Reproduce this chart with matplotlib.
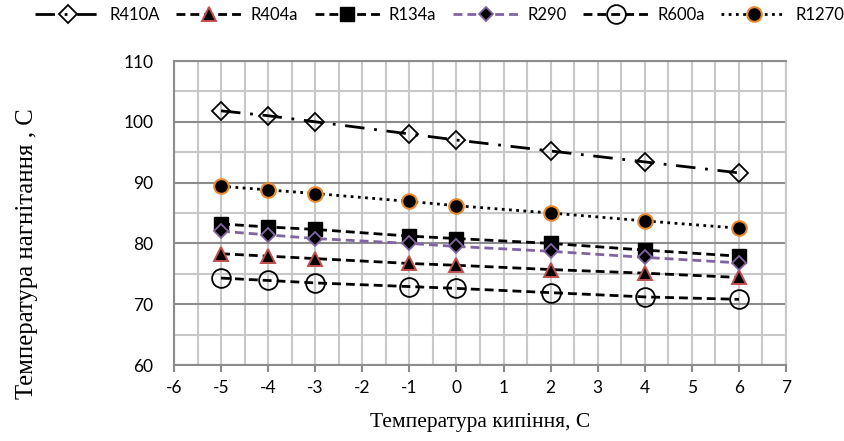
import matplotlib
matplotlib.use("Agg")
import matplotlib.pyplot as plt
from matplotlib.ticker import MultipleLocator

x = [-5, -4, -3, -1, 0, 2, 4, 6]
series_names = ["R410A", "R404a", "R134a", "R290", "R600a", "R1270"]
r410a = [101.8, 101.0, 100.0, 98.0, 97.0, 95.2, 93.4, 91.6]
r404a = [78.3, 77.9, 77.5, 76.7, 76.4, 75.7, 75.1, 74.4]
r134a = [83.2, 82.7, 82.3, 81.2, 80.8, 80.0, 78.9, 77.9]
r290 = [82.0, 81.4, 80.8, 80.0, 79.5, 78.7, 77.7, 76.8]
r600a = [74.3, 73.9, 73.5, 72.9, 72.6, 71.9, 71.2, 70.8]
r1270 = [89.4, 88.8, 88.2, 86.9, 86.2, 85.0, 83.7, 82.5]

xlabel = "Температура кипіння, С"
ylabel = "Температура нагнітання , С"

W, H = 845, 441
fig = plt.figure(figsize=(W / 100, H / 100), dpi=100)
ax = fig.add_axes([174 / W, 1 - 365 / H, (786 - 174) / W, (365 - 61) / H])

tick_font = "Lato"
serif_font = "Liberation Serif"

lw = 2.0
styles = {
    "R410A": dict(color="black", dashes=(7, 3.5, 1, 3.5), marker="D", ms=9.5,
                  mfc="none", mec="black", mew=1.3),
    "R404a": dict(color="black", dashes=(3.2, 1.8), marker="^", ms=10,
                  mfc="black", mec="#C0504D", mew=1.4),
    "R134a": dict(color="black", dashes=(3.2, 1.8), marker="s", ms=9.5,
                  mfc="black", mec="black", mew=1.0),
    "R290": dict(color="#8064A2", dashes=(3.2, 1.8), marker="D", ms=7.5,
                 mfc="black", mec="#8064A2", mew=1.3),
    "R600a": dict(color="black", dashes=(3.2, 1.8), marker="o", ms=13.5,
                  mfc="none", mec="black", mew=1.3),
    "R1270": dict(color="black", dashes=(1, 1.6), marker="o", ms=10.5,
                  mfc="black", mec="#E88A30", mew=1.5),
}
data = {"R410A": r410a, "R404a": r404a, "R134a": r134a,
        "R290": r290, "R600a": r600a, "R1270": r1270}

for name in series_names:
    st = styles[name]
    ax.plot(x, data[name], label=name, lw=lw, zorder=3, **st)

ax.set_xlim(-6, 7)
ax.set_ylim(60, 110)
ax.xaxis.set_major_locator(MultipleLocator(1))
ax.xaxis.set_minor_locator(MultipleLocator(0.5))
ax.yaxis.set_major_locator(MultipleLocator(10))
ax.yaxis.set_minor_locator(MultipleLocator(5))

ax.grid(which="minor", axis="both", color="#C8C8C8", lw=1.5, zorder=0)
ax.grid(which="major", axis="x", color="#C8C8C8", lw=1.5, zorder=0)
ax.grid(which="major", axis="y", color="#8C8C8C", lw=1.5, zorder=1)
ax.set_axisbelow(True)

for s in ["top", "bottom", "left"]:
    ax.spines[s].set_color("#8C8C8C")
    ax.spines[s].set_linewidth(1.5)
ax.spines["right"].set_color("#C8C8C8")
ax.spines["right"].set_linewidth(1.5)

ax.tick_params(axis="x", which="major", direction="out", length=5, width=1.5,
               color="#8C8C8C", pad=6)
ax.tick_params(axis="y", which="major", length=0, pad=15)
ax.tick_params(which="minor", length=0)

ax.set_xticks(list(range(-6, 8)))
ax.set_xticklabels([str(v) for v in range(-6, 8)], fontfamily=tick_font, fontsize=12.5)
ax.set_yticks(list(range(60, 111, 10)))
ax.set_yticklabels([str(v) for v in range(60, 111, 10)], fontfamily=tick_font, fontsize=12.5)

fig.text(480 / W, 1 - 422 / H, xlabel, ha="center", va="center",
         fontfamily=serif_font, fontsize=15.5)
fig.text(27 / W, 1 - 254 / H, ylabel, ha="center", va="center", rotation=90,
         fontfamily=serif_font, fontsize=17.8)

handles, labels = ax.get_legend_handles_labels()
leg = fig.legend(handles, labels, loc="center left", ncol=6,
                 bbox_to_anchor=(35 / W, 1 - 15 / H), frameon=False,
                 prop={"family": tick_font, "size": 12},
                 handlelength=3.9, handletextpad=0.55, columnspacing=1.0,
                 borderaxespad=0, borderpad=0)

fig.savefig("out.png", dpi=100)
